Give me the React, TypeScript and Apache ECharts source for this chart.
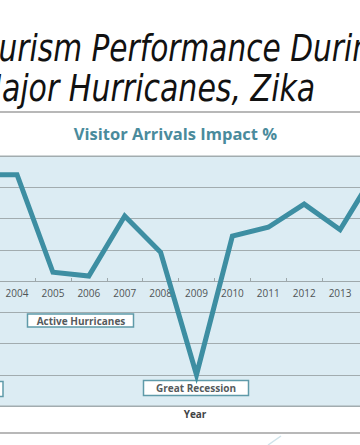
import React, { useEffect, useRef } from "react";
import * as echarts from "echarts";

const years = ["2003", "2004", "2005", "2006", "2007", "2008", "2009", "2010", "2011", "2012", "2013", "2014"];
const visitorImpact = [17.0, 17.0, 1.4, 0.8, 10.4, 4.6, -15.0, 7.2, 8.6, 12.3, 8.2, 17.6];
const yMin = -20;
const yMax = 20;
const yStep = 5;

const slideTitle1 = "Tourism Performance During";
const slideTitle2 = "Major Hurricanes, Zika";
const chartTitle = "Visitor Arrivals Impact %";
const xAxisTitle = "Year";
const notes = ["Active Hurricanes", "Great Recession"];

export default function App() {
  const ref = useRef<HTMLDivElement>(null);
  useEffect(() => {
    if (!ref.current) return;
    const chart = echarts.init(ref.current, undefined, { renderer: "svg" });
    const boxStyle = { fill: "#ffffff", stroke: "#5f9aa9", lineWidth: 1.5 };
    const noteText = { fill: "#555a5c", font: "bold 10px 'Open Sans'", align: "center", verticalAlign: "middle" };
    const titleFont = "italic 38px 'DejaVu Sans'";
    const lastIdx = years.length - 1;
    chart.setOption({
      animation: false,
      backgroundColor: "#ffffff",
      grid: {
        left: -36.8,
        right: -33.9,
        top: 156,
        bottom: 39,
        outerBoundsMode: "none",
        containLabel: false,
        show: true,
        backgroundColor: "#dcecf3",
        borderColor: "#a2acaf",
        borderWidth: 1,
      },
      xAxis: {
        type: "category",
        data: years,
        boundaryGap: true,
        position: "bottom",
        offset: -125,
        axisLine: { onZero: false, lineStyle: { color: "#9ea8ab", width: 1 } },
        axisTick: { show: true, inside: true, length: 3, lineStyle: { color: "#9ea8ab" } },
        axisLabel: {
          color: "#4f5456",
          fontSize: 10,
          fontFamily: "Open Sans",
          margin: 7,
          interval: (i: number) => i > 0 && i < lastIdx,
        },
      },
      yAxis: {
        type: "value",
        min: yMin,
        max: yMax,
        interval: yStep,
        axisLabel: { show: false },
        axisLine: { show: false },
        axisTick: { show: false },
        splitLine: { lineStyle: { color: "#a2acaf", width: 1.2 } },
      },
      series: [
        {
          type: "line",
          data: visitorImpact,
          symbol: "none",
          lineStyle: { color: "#3d8ea2", width: 5, join: "miter" },
        },
      ],
      graphic: [
        {
          type: "text",
          x: -34,
          y: 48,
          scaleX: 0.78,
          style: { text: slideTitle1, fill: "#111111", font: titleFont, verticalAlign: "middle" },
        },
        {
          type: "text",
          x: -24,
          y: 88,
          scaleX: 0.79,
          style: { text: slideTitle2, fill: "#111111", font: titleFont, verticalAlign: "middle" },
        },
        { type: "line", shape: { x1: 0, y1: 112, x2: 360, y2: 112 }, style: { stroke: "#b8b8b8", lineWidth: 2 } },
        { type: "line", shape: { x1: 0, y1: 433, x2: 360, y2: 433 }, style: { stroke: "#b8b8b8", lineWidth: 2 } },
        { type: "line", shape: { x1: 268, y1: 445, x2: 281, y2: 436 }, style: { stroke: "#cfe3ea", lineWidth: 1.5 } },
        {
          type: "text",
          x: 175.5,
          y: 133,
          style: { text: chartTitle, fill: "#4a8b9c", font: "bold 16.5px 'Open Sans'", align: "center", verticalAlign: "middle" },
        },
        {
          type: "text",
          x: 195,
          y: 414,
          style: { text: xAxisTitle, fill: "#3f4446", font: "bold 10px 'Open Sans'", align: "center", verticalAlign: "middle" },
        },
        { type: "rect", shape: { x: 27.5, y: 314, width: 106, height: 13 }, style: boxStyle },
        { type: "text", x: 81, y: 320.5, style: { ...noteText, text: notes[0] } },
        { type: "rect", shape: { x: 143.5, y: 380.5, width: 105, height: 15 }, style: boxStyle },
        { type: "text", x: 196, y: 388, style: { ...noteText, text: notes[1] } },
        { type: "rect", shape: { x: -60, y: 381.5, width: 63, height: 15 }, style: boxStyle },
      ],
    });
    return () => chart.dispose();
  }, []);
  return <div ref={ref} style={{ position: "fixed", left: 0, top: 0, width: 360, height: 445 }} />;
}
